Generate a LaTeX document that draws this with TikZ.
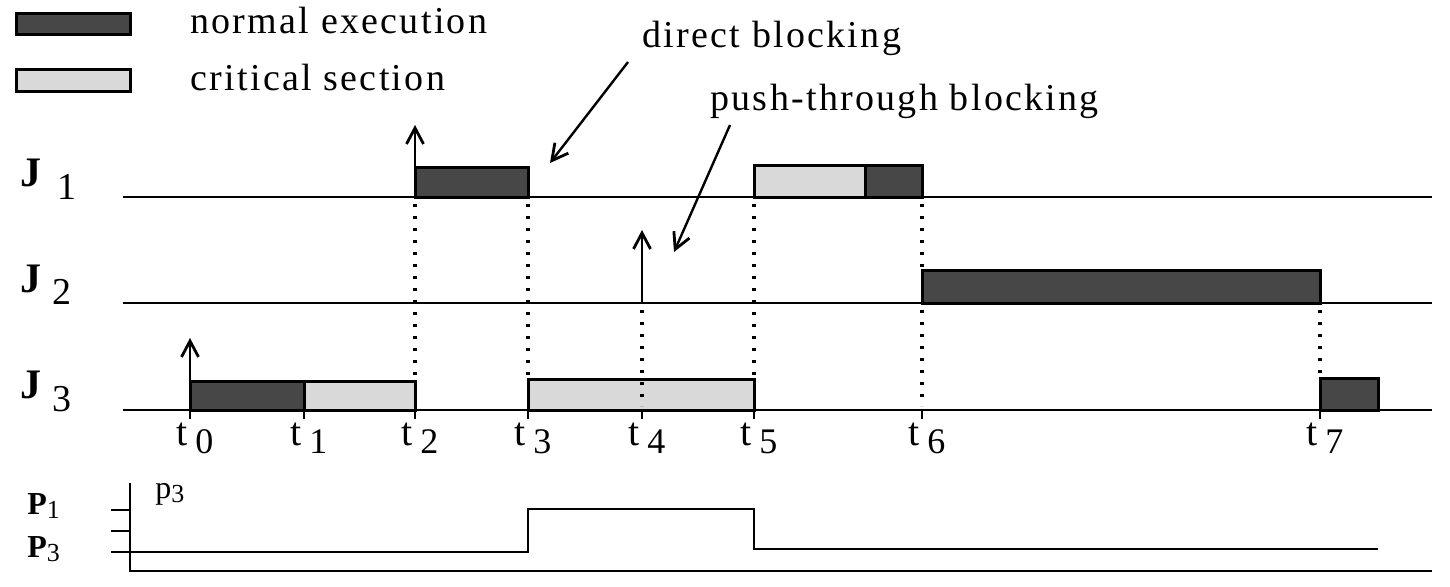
\documentclass[tikz,border=0pt]{standalone}
\usepackage{fontspec}
\setmainfont{Liberation Serif}
\newfontfamily\spaced{Liberation Serif}[LetterSpace=6]
\usetikzlibrary{arrows.meta}
\begin{document}
\begin{tikzpicture}[x=0.5pt,y=-0.5pt,
  dark/.style={draw=black, line width=1.5pt, fill=black!72},
  light/.style={draw=black, line width=1.5pt, fill=black!15},
  base/.style={line width=1.1pt},
  dotline/.style={line width=1.6pt, dash pattern=on 1.6pt off 4.4pt},
  arr/.style={-{Straight Barb[length=8pt,width=8.5pt,line width=1.4pt]}, line width=1.2pt},
  txt/.style={font=\spaced\fontsize{19}{21}\selectfont, inner sep=0pt, anchor=base west},
  jl/.style={font=\fontsize{21}{22}\selectfont\bfseries, inner sep=0pt, anchor=base west},
  jn/.style={font=\fontsize{19}{20}\selectfont, inner sep=0pt, anchor=base west},
  tl/.style={font=\fontsize{20}{21}\selectfont, inner sep=0pt, anchor=base east},
  tn/.style={font=\fontsize{18}{20}\selectfont, inner sep=0pt, anchor=base west},
  pl/.style={font=\fontsize{16}{18}\selectfont, inner sep=0pt, anchor=base west}]
\useasboundingbox (0,0) rectangle (1450,586);

% legend
\draw[dark] (16,13) rectangle (130,34);
\draw[light] (16,69) rectangle (130,91);
\node[txt] (lnorm) at (190,33) {normal execution};
\node[txt] (lcrit) at (190,90) {critical section};

% job labels
\node[jl] (J1) at (20,186) {J};
\node[jn] (J1n) at (57,199) {1};
\node[jl] (J2) at (20,292) {J};
\node[jn] (J2n) at (52,304) {2};
\node[jl] (J3) at (20,398) {J};
\node[jn] (J3n) at (52,411) {3};

% blocks J3
\draw[dark] (190,381) rectangle (304,410);
\draw[light] (304,381) rectangle (415,410);
\draw[light] (528,379) rectangle (754,410);
\draw[dark] (1320,378) rectangle (1378,410);
% blocks J1
\draw[dark] (415,167) rectangle (528,197);
\draw[light] (754,165) rectangle (865,197);
\draw[dark] (865,165) rectangle (922,197);
% block J2
\draw[dark] (922,270) rectangle (1320,303);

% baselines
\draw[base] (123,197) -- (1432,197);
\draw[base] (123,303) -- (1432,303);
\draw[base] (123,410) -- (1432,410);

% ticks
\foreach \x in {190,304,415,528,642,754,922,1320}{
  \draw[line width=1.2pt] (\x,410) -- (\x,419);
}

% dotted lines
\draw[dotline] (415,204) -- (415,378);
\draw[dotline] (528,204) -- (528,376);
\draw[dotline] (642,310) -- (642,406);
\draw[dotline] (754,204) -- (754,376);
\draw[dotline] (922,204) -- (922,268);
\draw[dotline] (922,310) -- (922,406);
\draw[dotline] (1320,310) -- (1320,375);

% arrival arrows
\coordinate (a1) at (415,125);
\coordinate (a2) at (642,230);
\coordinate (a3) at (190,338);
\draw[arr] (415,197) -- (a1);
\draw[arr] (642,303) -- (a2);
\draw[arr] (190,410) -- (a3);

% time labels
\foreach \n/\x in {0/190,1/304,2/415,3/528,4/642,5/754,6/922,7/1320}{
  \node[tl] (tl\n) at (\x-2,445) {t};
  \node[tn] (tn\n) at (\x+5,453) {\n};
}

% annotations
\node[txt] (db) at (642,47) {direct blocking};
\node[txt] (pb) at (710,110) {push-through blocking};
\coordinate (db1) at (628,62);
\coordinate (db2) at (550,163);
\coordinate (pb1) at (730,125);
\coordinate (pb2) at (674,252);
\draw[arr] (db1) -- (db2);
\draw[arr] (pb1) -- (pb2);

% priority chart
\draw[base] (130,483) -- (130,571) -- (1432,571);
\draw[base] (111,510) -- (130,510);
\draw[base] (111,531) -- (130,531);
\draw[base] (111,552) -- (130,552);
\draw[line width=1.2pt] (130,552) -- (528,552) -- (528,509) -- (754,509) -- (754,549) -- (1378,549);
\node[pl] (P1) at (27,514) {\textbf{P}\raisebox{-0.3ex}{\fontsize{13}{14}\selectfont 1}};
\node[pl] (P3) at (27,557) {\textbf{P}\raisebox{-0.3ex}{\fontsize{13}{14}\selectfont 3}};
\node[pl] (p3) at (155,498) {p\raisebox{-0.3ex}{\fontsize{13}{14}\selectfont 3}};
\end{tikzpicture}
\end{document}
